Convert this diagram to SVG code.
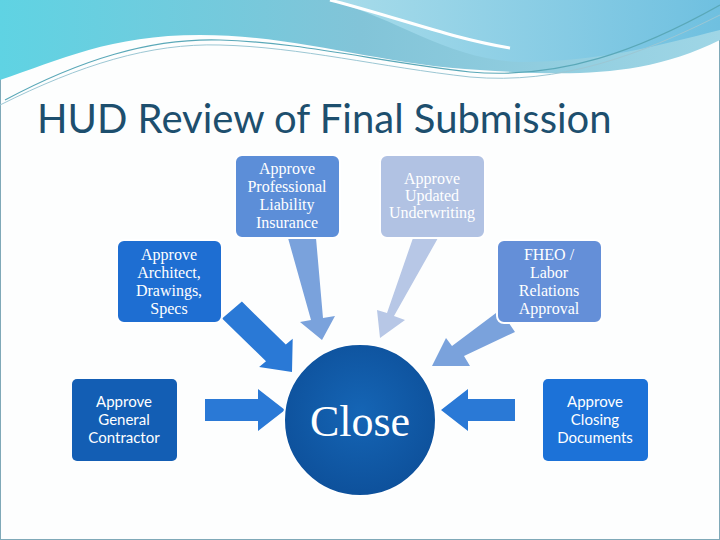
<svg xmlns="http://www.w3.org/2000/svg" width="720" height="540" viewBox="0 0 720 540">
<defs>
<linearGradient id="hdr" x1="0" y1="0" x2="1" y2="0"><stop offset="0" stop-color="#5fd3e3"/><stop offset="0.5" stop-color="#82c4d8"/><stop offset="1" stop-color="#9fd6e6"/></linearGradient>
<linearGradient id="hdr2" x1="0" y1="0" x2="1" y2="0"><stop offset="0" stop-color="#a8dcea"/><stop offset="1" stop-color="#6fc0e0"/></linearGradient>
<radialGradient id="circ" cx="0.5" cy="0.45" r="0.6"><stop offset="0" stop-color="#1565b5"/><stop offset="1" stop-color="#0d4f99"/></radialGradient>
</defs>
<style>
.box{stroke:#fff;stroke-width:2}
.t{font-family:"Liberation Serif",serif;font-size:16px;fill:#fff;text-anchor:middle}
.ts{font-family:"Lato","Liberation Sans",sans-serif;font-size:15px;fill:#fff;text-anchor:middle}
</style>
<rect width="720" height="540" fill="#fdfefe"/>
<rect x="0.5" y="0.5" width="719" height="539" fill="none" stroke="#7fa9b8"/>
<g id="header">
<path d="M0 0 H720 V40 C640 80 560 75 480 70 C380 65 300 35 200 35 C110 35 60 60 0 80 Z" fill="url(#hdr)"/>
<path d="M330 0 H720 V30 C660 45 600 62 520 62 C450 60 400 20 330 0 Z" fill="url(#hdr2)"/>
<path d="M330 0 C400 18 450 38 510 48" fill="none" stroke="#fff" stroke-width="3"/>
<path d="M5 100 C80 60 150 38 220 40 C300 42 380 62 470 72 C560 80 640 50 720 5" fill="none" stroke="#5aa8b8" stroke-width="1.2"/>
<path d="M0 105 C80 65 150 43 220 45 C300 47 380 67 470 77 C560 85 640 55 720 15" fill="none" stroke="#9cc7d4" stroke-width="1"/>
</g>
<text x="37" y="133" font-family="Lato,'Open Sans',sans-serif" font-size="40" fill="#1d4f6e">HUD Review of Final Submission</text>
<g id="connectors">
<polygon points="241.9,301.6 285.8,344.5 292.7,338.7 292,372 259.1,367.1 266,361.3 222.1,318.4" fill="#2a79d6"/>
<polygon points="288,238 316,238 323,318 335,316 322,340 300,322 311,320" fill="#7aa2dc"/>
<polygon points="413,238 438,238 394,316 405,320 380,338 377,310 387,313" fill="#b7c7e6"/>
<polygon points="500,310 515,332 464,356 470,366 432,366 446,338 452,346" fill="#7aa2dc"/>
<polygon points="205,399 258,399 258,389 285,410 258,431 258,421 205,421" fill="#2a79d6"/>
<polygon points="515,399 468,399 468,389 441,410 468,431 468,421 515,421" fill="#2a79d6"/>
</g>
<g id="prof"><rect class="box" x="235" y="155" width="105" height="83" rx="7" fill="#5c8ed8"/>
<text class="t" x="287" y="174">Approve</text><text class="t" x="287" y="192">Professional</text><text class="t" x="287" y="210">Liability</text><text class="t" x="287" y="228">Insurance</text></g>
<g id="underwriting"><rect class="box" x="380" y="155" width="105" height="83" rx="7" fill="#b1c2e3"/>
<text class="t" x="432" y="184">Approve</text><text class="t" x="432" y="201">Updated</text><text class="t" x="432" y="218">Underwriting</text></g>
<g id="architect"><rect class="box" x="117" y="240" width="105" height="83" rx="7" fill="#1e6ed2"/>
<text class="t" x="169" y="260">Approve</text><text class="t" x="169" y="278">Architect,</text><text class="t" x="169" y="296">Drawings,</text><text class="t" x="169" y="314">Specs</text></g>
<g id="fheo"><rect class="box" x="497" y="240" width="105" height="83" rx="7" fill="#648fd8"/>
<text class="t" x="549" y="260">FHEO /</text><text class="t" x="549" y="278">Labor</text><text class="t" x="549" y="296">Relations</text><text class="t" x="549" y="314">Approval</text></g>
<g id="gc"><rect x="72" y="379" width="105" height="82" rx="5" fill="#135eb4"/>
<text class="ts" x="124" y="407">Approve</text><text class="ts" x="124" y="425">General</text><text class="ts" x="124" y="443">Contractor</text></g>
<g id="closingdocs"><rect x="543" y="379" width="105" height="82" rx="5" fill="#1c72d8"/>
<text class="ts" x="595" y="407">Approve</text><text class="ts" x="595" y="425">Closing</text><text class="ts" x="595" y="443">Documents</text></g>
<g id="close"><circle cx="360" cy="420" r="76" fill="url(#circ)" stroke="#fff" stroke-width="2"/>
<text x="360" y="436" font-family="'Liberation Serif',serif" font-size="44" fill="#fff" text-anchor="middle">Close</text></g>
</svg>
